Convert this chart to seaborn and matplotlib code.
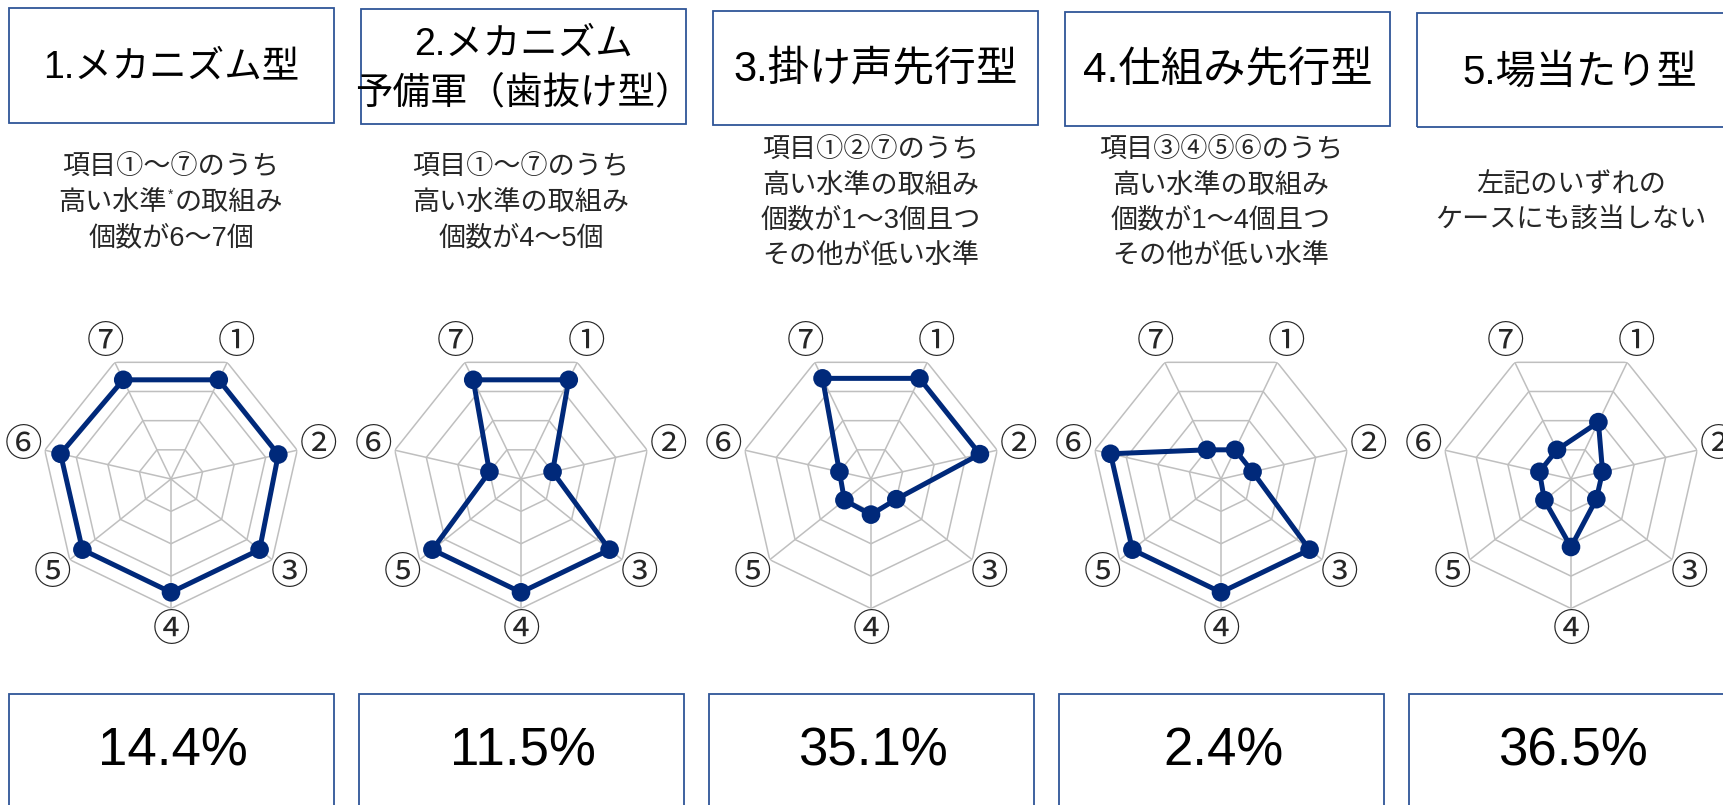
import numpy as np
import pandas as pd
import matplotlib
matplotlib.use("Agg")
import matplotlib.pyplot as plt
from matplotlib.patches import Rectangle
import seaborn as sns

# ---- data ----
items = ["①", "②", "③", "④", "⑤", "⑥", "⑦"]

titles = [
    "1.メカニズム型",
    "2.メカニズム\n予備軍（歯抜け型）",
    "3.掛け声先行型",
    "4.仕組み先行型",
    "5.場当たり型",
]

# a "*" marks a footnote reference, drawn as a small raised asterisk
descriptions = [
    "項目①～⑦のうち\n高い水準*の取組み\n個数が6～7個",
    "項目①～⑦のうち\n高い水準の取組み\n個数が4～5個",
    "項目①②⑦のうち\n高い水準の取組み\n個数が1～3個且つ\nその他が低い水準",
    "項目③④⑤⑥のうち\n高い水準の取組み\n個数が1～4個且つ\nその他が低い水準",
    "左記のいずれの\nケースにも該当しない",
]

mechanism = [3.4, 3.4, 3.5, 3.5, 3.5, 3.5, 3.4]
mechanism_reserve = [3.4, 1.0, 3.5, 3.5, 3.5, 1.0, 3.4]
call_first = [3.45, 3.45, 1.0, 1.1, 1.05, 1.0, 3.45]
system_first = [1.0, 1.0, 3.5, 3.5, 3.5, 3.5, 1.0]
ad_hoc = [1.95, 1.0, 1.0, 2.1, 1.05, 1.0, 1.0]
profiles = [mechanism, mechanism_reserve, call_first, system_first, ad_hoc]

shares = [14.4, 11.5, 35.1, 2.4, 36.5]

levels = [1, 2, 3, 4]

# ---- style ----
sns.set_style("white")
CJK = ["Noto Sans CJK JP", "DejaVu Sans"]
LATIN_CJK = ["Liberation Sans", "Noto Sans CJK JP", "DejaVu Sans"]
plt.rcParams["font.family"] = CJK

W, H = 1723, 805
NAVY = "#00297A"
GRID = "#BFBFBF"
BOX = "#2F5597"

title_sizes = [27, 27, 30, 30.5, 29]
DESC_SIZE = 19.5
DESC_GAP = 35  # pixels between description lines
DESC_Y = 203

fig = plt.figure(figsize=(W / 100, H / 100), dpi=100)
fig.patch.set_facecolor("white")


def fx(x):
    return x / W


def fy(y):
    return 1 - y / H


n = len(items)
theta = np.pi / n + np.arange(n) * 2 * np.pi / n
theta_closed = np.append(theta, theta[0] + 2 * np.pi)
rmax = levels[-1]
R = 129.5  # radius in pixels of the outer ring
cy = 479

for i in range(len(titles)):
    cx = 171 + 350 * i

    # header box and title
    top = 8 + 1.3 * i
    bottom = 123 + 1.1 * i
    x0 = 9 + 352 * i
    fig.patches.append(Rectangle((fx(x0), fy(bottom)), 325 / W, (bottom - top) / H,
                                 transform=fig.transFigure, fill=False,
                                 edgecolor=BOX, linewidth=1.3))
    fig.text(fx(x0 + 162.5), fy((top + bottom) / 2 + 2), titles[i],
             ha="center", va="center", fontsize=title_sizes[i],
             family=LATIN_CJK, linespacing=1.45, color="black")

    # description, one text per line
    lines = descriptions[i].split("\n")
    nl = len(lines)
    for k, line in enumerate(lines):
        ly = DESC_Y + (k - (nl - 1) / 2) * DESC_GAP
        if "*" in line:
            left, right = line.split("*")
            fig.text(fx(cx - 4), fy(ly), left, ha="right", va="center",
                     fontsize=DESC_SIZE, family=LATIN_CJK)
            fig.text(fx(cx + 4), fy(ly), right, ha="left", va="center",
                     fontsize=DESC_SIZE, family=LATIN_CJK)
            fig.text(fx(cx), fy(ly - 8), "*", ha="center", va="center",
                     fontsize=10, family=LATIN_CJK)
        else:
            fig.text(fx(cx), fy(ly), line, ha="center", va="center",
                     fontsize=DESC_SIZE, family=LATIN_CJK)

    # radar chart
    ax = fig.add_axes([fx(cx - R), fy(cy + R), 2 * R / W, 2 * R / H],
                      projection="polar")
    ax.set_theta_zero_location("N")
    ax.set_theta_direction(-1)
    ax.set_ylim(0, rmax)
    ax.grid(False)
    ax.set_xticks([])
    ax.set_yticks([])
    ax.spines["polar"].set_visible(False)
    ax.set_facecolor("none")

    for lv in levels:
        ax.plot(theta_closed, [lv] * (n + 1), color=GRID, lw=1.1, zorder=1)
    for t in theta:
        ax.plot([t, t], [0, rmax], color=GRID, lw=1.1, zorder=1)

    df = pd.DataFrame({"theta": theta_closed,
                       "value": profiles[i] + [profiles[i][0]]})
    sns.lineplot(data=df, x="theta", y="value", sort=False, ax=ax,
                 color=NAVY, lw=3.6, zorder=3)
    sns.scatterplot(data=df.iloc[:-1], x="theta", y="value", ax=ax,
                    color=NAVY, s=180, edgecolor="none", zorder=4)
    ax.set_xlabel("")
    ax.set_ylabel("")
    ax.set_ylim(0, rmax)

    for t, lab in zip(theta, items):
        ax.text(t, rmax * 1.17, lab, ha="center", va="center",
                fontsize=27, family=CJK, clip_on=False)

    # share box
    bx0 = 9 + 350 * i
    fig.patches.append(Rectangle((fx(bx0), fy(830)), 325 / W, (830 - 693.5) / H,
                                 transform=fig.transFigure, fill=False,
                                 edgecolor=BOX, linewidth=1.3))
    fig.text(fx(bx0 + 164), fy(751), f"{shares[i]:.1f}%", ha="center",
             va="center", fontsize=38, family=["Liberation Sans", "DejaVu Sans"],
             color="black")

fig.savefig("out.png", dpi=100, facecolor="white")
